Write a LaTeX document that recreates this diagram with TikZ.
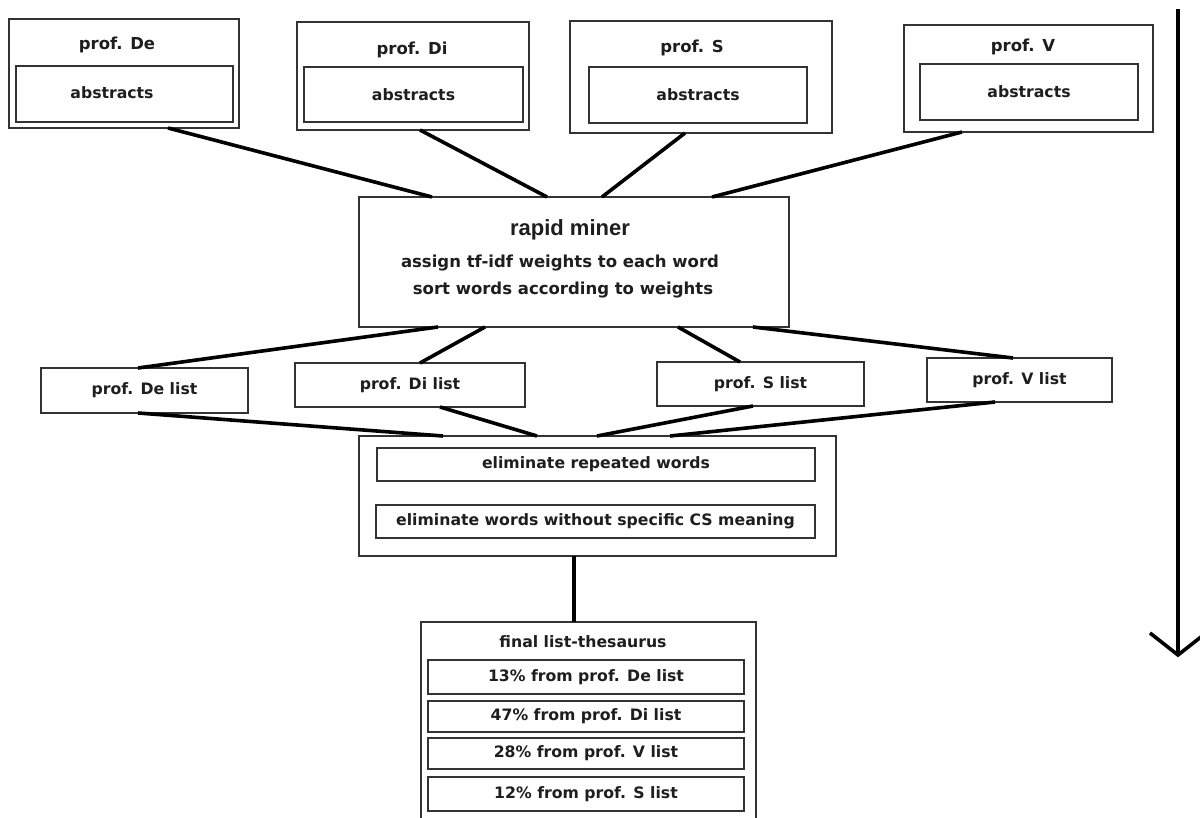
\documentclass[tikz,border=0pt]{standalone}
\usepackage{fontspec}
\setmainfont{DejaVu Sans}
\newfontfamily\arialfont{Liberation Sans}
\usetikzlibrary{calc}
\definecolor{boxc}{HTML}{333333}
\definecolor{txtc}{HTML}{1E1E1E}
\begin{document}
\begin{tikzpicture}[x=1pt,y=-1pt,
  box/.style={draw=boxc, line width=1.3pt, rectangle, inner sep=0pt, outer sep=0pt, anchor=north west,
              font=\bfseries\fontsize{15.7}{18}\selectfont, text=txtc},
  lbl/.style={font=\bfseries\fontsize{16.5}{19}\selectfont, text=txtc, inner sep=0pt},
  conn/.style={line width=3.6pt, draw=black}]
\path[use as bounding box, clip] (0,0) rectangle (1200,818);
\fill[white] (0,0) rectangle (1200,818);

% ---- top boxes ----
\node[box, minimum width=230pt, minimum height=109pt] (deO) at (9,19) {};
\node[box, minimum width=217pt, minimum height=56pt] (deI) at (16,66) {};
\node[lbl] (deT) at (117,45) {prof. De};
\node[lbl, font=\bfseries\fontsize{15.7}{18}\selectfont] (deA) at (112,93) {abstracts};

\node[box, minimum width=232pt, minimum height=108pt] (diO) at (297,22) {};
\node[box, minimum width=219pt, minimum height=55pt] (diI) at (304,67) {abstracts};
\node[lbl] (diT) at (412,50) {prof. Di};

\node[box, minimum width=262pt, minimum height=112pt] (sO) at (570,21) {};
\node[box, minimum width=218pt, minimum height=56pt] (sI) at (589,67) {abstracts};
\node[lbl] (sT) at (692,48) {prof. S};

\node[box, minimum width=249pt, minimum height=107pt] (vO) at (904,25) {};
\node[box, minimum width=218pt, minimum height=56pt] (vI) at (920,64) {abstracts};
\node[lbl] (vT) at (1023,47) {prof. V};

% ---- rapid miner ----
\node[box, minimum width=430pt, minimum height=130pt] (rm) at (359,197) {};
\node[inner sep=0pt, text=txtc, font=\arialfont\bfseries\fontsize{22}{26}\selectfont] (rmT) at (570,230) {rapid miner};
\node[lbl] (rm1) at (560,263) {assign tf-idf weights to each word};
\node[lbl] (rm2) at (563,290) {sort words according to weights};

% ---- lists ----
\node[box, minimum width=207pt, minimum height=45pt] (deL) at (41,368) {prof. De list};
\node[box, minimum width=230pt, minimum height=44pt] (diL) at (295,363) {prof. Di list};
\node[box, minimum width=207pt, minimum height=44pt] (sL) at (657,362) {prof. S list};
\node[box, minimum width=185pt, minimum height=44pt] (vL) at (927,358) {prof. V list};

% ---- eliminate ----
\node[box, minimum width=477pt, minimum height=120pt] (elO) at (359,436) {};
\node[box, minimum width=438pt, minimum height=33pt] (el1) at (377,448) {eliminate repeated words};
\node[box, minimum width=439pt, minimum height=33pt] (el2) at (376,505) {eliminate words without specific CS meaning};

% ---- final list ----
\node[box, minimum width=335pt, minimum height=205pt] (fin) at (421,622) {};
\node[lbl, font=\bfseries\fontsize{15.7}{18}\selectfont] (finT) at (583,642) {final list-thesaurus};
\node[box, minimum width=316pt, minimum height=34pt] (r1) at (428,660) {13\% from prof. De list};
\node[box, minimum width=316pt, minimum height=31pt] (r2) at (428,701) {47\% from prof. Di list};
\node[box, minimum width=316pt, minimum height=31pt] (r3) at (428,738) {28\% from prof. V list};
\node[box, minimum width=316pt, minimum height=34pt] (r4) at (428,777) {12\% from prof. S list};

% ---- connectors: top boxes -> rapid miner ----
\draw[conn] ($(deO.south west)+(159,0)$) -- ($(rm.north west)+(73,0)$);
\draw[conn] ($(diO.south west)+(123,0)$) -- ($(rm.north west)+(188,0)$);
\draw[conn] ($(sO.south west)+(115,0)$) -- ($(rm.north west)+(243,0)$);
\draw[conn] ($(vO.south west)+(58,0)$) -- ($(rm.north west)+(353,0)$);

% ---- rapid miner -> lists ----
\draw[conn] ($(rm.south west)+(79,0)$) -- ($(deL.north west)+(97,0)$);
\draw[conn] ($(rm.south west)+(126,0)$) -- ($(diL.north west)+(125,0)$);
\draw[conn] ($(rm.south west)+(319,0)$) -- ($(sL.north west)+(83,0)$);
\draw[conn] ($(rm.south west)+(394,0)$) -- ($(vL.north west)+(86,0)$);

% ---- lists -> eliminate ----
\draw[conn] ($(deL.south west)+(97,0)$) -- ($(elO.north west)+(84,0)$);
\draw[conn] ($(diL.south west)+(145,0)$) -- ($(elO.north west)+(178,0)$);
\draw[conn] ($(sL.south west)+(96,0)$) -- ($(elO.north west)+(238,0)$);
\draw[conn] ($(vL.south west)+(68,0)$) -- ($(elO.north west)+(311,0)$);

% ---- eliminate -> final ----
\draw[conn] ($(elO.south west)+(215,0)$) -- ($(fin.north west)+(153,0)$);

% ---- side arrow ----
\coordinate (aTop) at (1178,9);
\coordinate (aTip) at (1178,655);
\draw[conn] (aTop) -- (aTip);
\draw[conn, line join=miter] (aTip) ++(-28,-22) -- (aTip) -- ++(28,-22);
\end{tikzpicture}
\end{document}
